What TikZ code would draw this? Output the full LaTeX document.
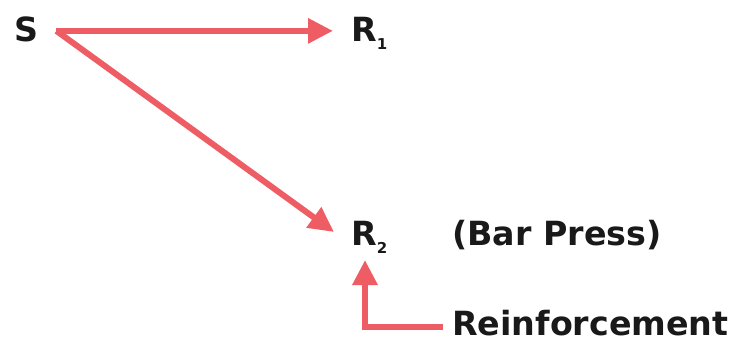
\documentclass[tikz,border=0pt]{standalone}
\usepackage{fontspec}
\setmainfont{DejaVu Sans}
\usetikzlibrary{arrows.meta}
\definecolor{arr}{RGB}{238,92,100}
\definecolor{txt}{RGB}{25,25,25}
\newcommand{\subn}[1]{\raisebox{-8pt}{\fontsize{15}{15}\selectfont #1}}
\begin{document}
\begin{tikzpicture}[x=1pt,y=1pt,
  lbl/.style={inner sep=0pt,anchor=base west,text=txt,font=\fontsize{33.3}{36}\selectfont\bfseries},
  conn/.style={draw=arr,line width=6pt,-{Triangle[length=25pt,width=24pt]}}]
\useasboundingbox (0,0) rectangle (731,346);
\node[lbl] (S) at (14,304) {S};
\node[lbl] (R1) at (351,304) {R\subn{1}};
\node[lbl] (R2) at (351,101) {R\subn{2}};
\node[lbl] (bar) at (452,101) {(Bar Press)};
\node[lbl] (rein) at (452,11) {Reinforcement};
\coordinate (s0) at ([xshift=18pt,yshift=-1pt]S.east);
\coordinate (t1) at ([xshift=-18pt]R1.west |- s0);
\coordinate (t2) at (334,114);
\coordinate (corner) at (365,19);
\coordinate (t3) at (365,86);
\draw[conn] (s0) -- (t1);
\draw[conn] (s0) -- (t2);
\draw[conn] ([xshift=-9pt]rein.west |- corner) -- (corner) -- (t3);
\end{tikzpicture}
\end{document}
